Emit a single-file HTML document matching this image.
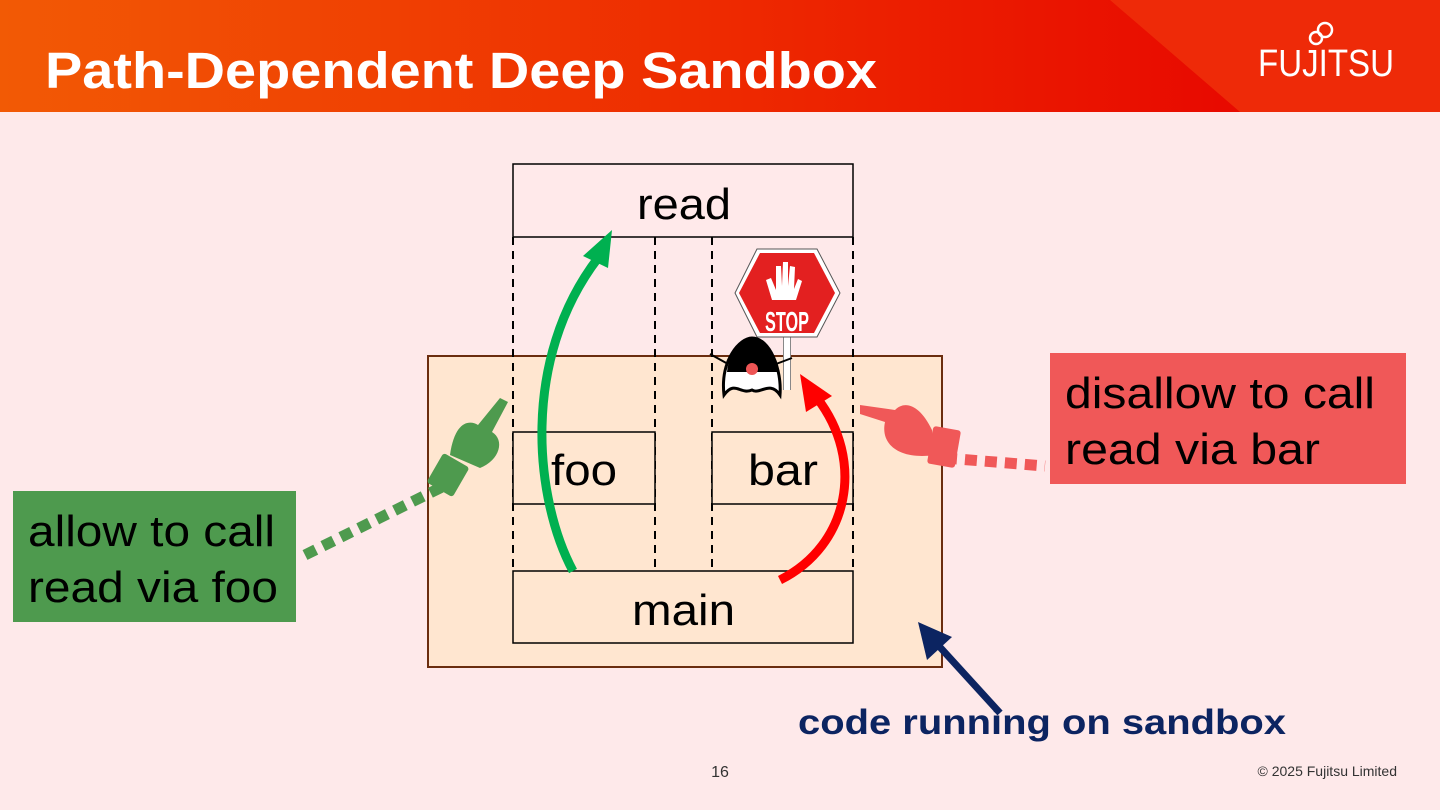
<!DOCTYPE html>
<html><head><style>
body{margin:0;width:1440px;height:810px;overflow:hidden;background:#fee9ea;font-family:"Liberation Sans",sans-serif}
svg{position:absolute;left:0;top:0}
</style></head><body>
<svg width="1440" height="810" viewBox="0 0 1440 810">
<defs>
<linearGradient id="hg" x1="0" x2="1" y1="0" y2="0">
<stop offset="0" stop-color="#f25a05"/><stop offset="0.5" stop-color="#ee2a00"/><stop offset="0.85" stop-color="#e80a00"/></linearGradient>
</defs>
<rect x="0" y="0" width="1440" height="112" fill="url(#hg)"/>
<polygon points="1110,0 1440,0 1440,112 1240,112" fill="#ee2a08"/>
<text x="45" y="88" font-size="51" font-weight="bold" fill="#fff" textLength="832" lengthAdjust="spacingAndGlyphs">Path-Dependent Deep Sandbox</text>
<text x="1258" y="76" font-size="38" fill="#fff" textLength="136" lengthAdjust="spacingAndGlyphs">FUJITSU</text>
<circle cx="1316" cy="38" r="6" fill="none" stroke="#fff" stroke-width="2.5"/>
<circle cx="1325" cy="30" r="7" fill="none" stroke="#fff" stroke-width="2.5"/>

<rect x="428" y="356" width="514" height="311" fill="#ffe6d0" stroke="#6b2d0f" stroke-width="2"/>
<rect x="513" y="164" width="340" height="73" fill="#ffe9ea" stroke="#000" stroke-width="1.5"/>
<text x="637" y="219" font-size="44" textLength="94" lengthAdjust="spacingAndGlyphs">read</text>
<g stroke="#000" stroke-width="2" stroke-dasharray="8,6">
<line x1="513" y1="237" x2="513" y2="571"/><line x1="655" y1="237" x2="655" y2="571"/>
<line x1="712" y1="237" x2="712" y2="571"/><line x1="853" y1="237" x2="853" y2="571"/>
</g>
<rect x="513" y="432" width="142" height="72" fill="#ffe6d0" stroke="#000" stroke-width="1.5"/>
<text x="551" y="485" font-size="44" textLength="66" lengthAdjust="spacingAndGlyphs">foo</text>
<rect x="712" y="432" width="141" height="72" fill="#ffe6d0" stroke="#000" stroke-width="1.5"/>
<text x="748" y="485" font-size="44" textLength="70" lengthAdjust="spacingAndGlyphs">bar</text>
<rect x="513" y="571" width="340" height="72" fill="#ffe6d0" stroke="#000" stroke-width="1.5"/>
<text x="632" y="625" font-size="44" textLength="103" lengthAdjust="spacingAndGlyphs">main</text>

<path d="M573,571 C535,500 520,360 598,258" fill="none" stroke="#00b050" stroke-width="9"/>
<polygon points="612,230 583,256 608,268" fill="#00b050"/>
<path d="M780,580 C850,545 865,460 817,398" fill="none" stroke="#ff0000" stroke-width="9"/>
<polygon points="800,374 806,412 832,396" fill="#ff0000"/>

<line x1="787" y1="330" x2="787" y2="390" stroke="#888" stroke-width="8"/>
<line x1="787" y1="330" x2="787" y2="390" stroke="#fff" stroke-width="6"/>
<polygon points="757,249 817,249 840,293 817,337 757,337 735,293" fill="#fff" stroke="#555" stroke-width="1"/>
<polygon points="760,253 814,253 835,293 814,333 760,333 739,293" fill="#e32020"/>
<text x="765" y="331" font-size="28" font-weight="bold" fill="#fff" textLength="44" lengthAdjust="spacingAndGlyphs">STOP</text>
<path d="M772,300 l-6,-20 5,-2 5,12 0,-24 5,0 1,20 1,-24 5,0 0,24 2,-20 5,1 -1,22 4,-10 4,2 -6,19 z" fill="#fff"/>
<path d="M724,395 C720,360 740,338 752,338 C770,338 782,370 780,395 C770,380 760,395 752,390 C740,395 735,380 724,395 Z" fill="#fff" stroke="#000" stroke-width="3"/>
<path d="M727,372 C730,345 745,338 752,338 C765,338 778,355 778,372 Z" fill="#000"/>
<circle cx="752" cy="369" r="6" fill="#e55"/>
<line x1="710" y1="354" x2="728" y2="364" stroke="#000" stroke-width="2"/>
<line x1="776" y1="364" x2="792" y2="358" stroke="#000" stroke-width="2"/>

<line x1="305" y1="555" x2="448" y2="484" stroke="#4e9a4e" stroke-width="11" stroke-dasharray="12,8"/>
<g fill="#4e9a4e">
<rect x="433" y="458" width="30" height="34" rx="3" transform="rotate(30 448 475)"/>
<path d="M450,455 C455,420 470,420 478,425 L500,398 L508,402 L492,432 C505,440 500,460 480,468 Z"/>
</g>
<line x1="945" y1="458" x2="1045" y2="466" stroke="#f05858" stroke-width="11" stroke-dasharray="12,8"/>
<g fill="#f05858">
<rect x="930" y="428" width="28" height="38" rx="3" transform="rotate(10 944 447)"/>
<path d="M932,430 C920,405 905,400 895,410 L860,405 L860,414 L885,422 C880,445 900,460 935,455 Z"/>
</g>

<rect x="13" y="491" width="283" height="131" fill="#4e9a4e"/>
<text x="28" y="546" font-size="44" textLength="247" lengthAdjust="spacingAndGlyphs">allow to call</text>
<text x="28" y="602" font-size="44" textLength="250" lengthAdjust="spacingAndGlyphs">read via foo</text>
<rect x="1050" y="353" width="356" height="131" fill="#f05858"/>
<text x="1065" y="408" font-size="44" textLength="310" lengthAdjust="spacingAndGlyphs">disallow to call</text>
<text x="1065" y="464" font-size="44" textLength="255" lengthAdjust="spacingAndGlyphs">read via bar</text>

<line x1="1000" y1="713" x2="938" y2="645" stroke="#0c2461" stroke-width="7"/>
<polygon points="918,622 927,660 952,637" fill="#0c2461"/>
<text x="798" y="734" font-size="35" font-weight="bold" fill="#0c2461" textLength="488" lengthAdjust="spacingAndGlyphs">code running on sandbox</text>
<text x="720" y="777" font-size="16" text-anchor="middle" fill="#333">16</text>
<text x="1397" y="776" font-size="14" text-anchor="end" fill="#333">© 2025 Fujitsu Limited</text>
</svg>
</body></html>
